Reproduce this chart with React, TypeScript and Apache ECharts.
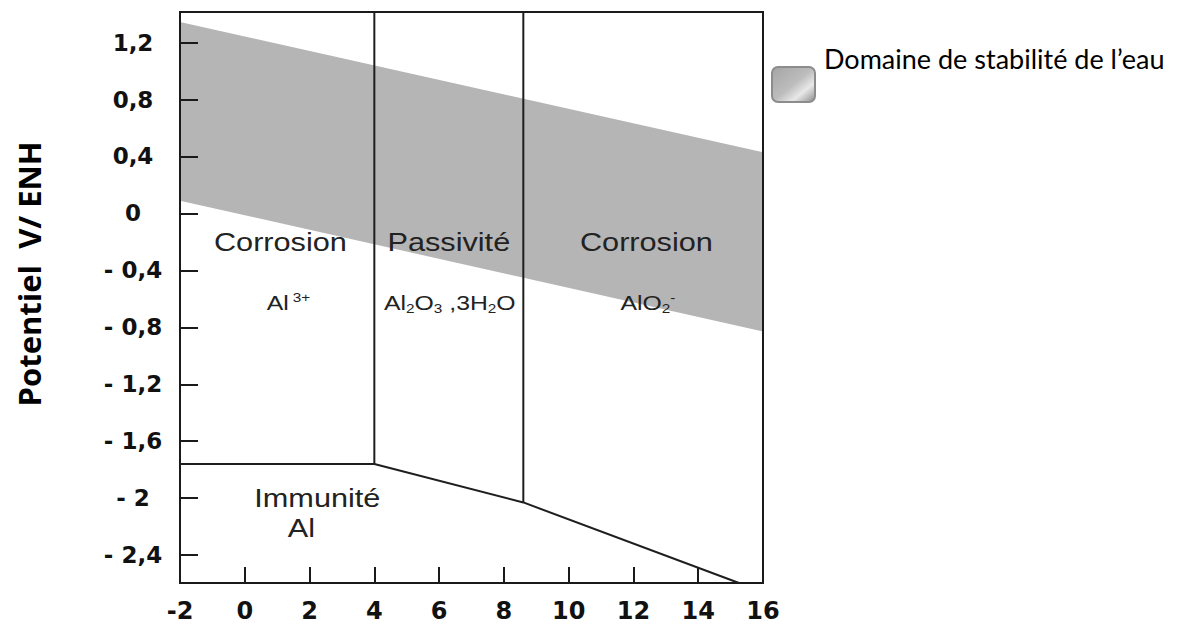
import React, { useEffect, useRef } from "react";
import * as echarts from "echarts";

// ---- data ----
const phRange = [-2, 16];
const potentialRange = [-2.596, 1.415];
const potentialTicks = [-2.4, -2, -1.6, -1.2, -0.8, -0.4, 0, 0.4, 0.8, 1.2];
const waterBand = [
  [-2, 1.345],
  [16, 0.43],
  [16, -0.83],
  [-2, 0.09],
];
const acidPassiveBoundary = [
  [4, -1.76],
  [4, 1.415],
];
const passiveBasicBoundary = [
  [8.6, -2.03],
  [8.6, 1.415],
];
const immunityBoundary = [
  [-2, -1.76],
  [4, -1.76],
  [8.6, -2.03],
  [15.26, -2.596],
];
const regionLabels = [
  { text: "{m|Corrosion}", ph: 1.1, e: -0.2 },
  { text: "{m|Passivité}", ph: 6.3, e: -0.2 },
  { text: "{m|Corrosion}", ph: 12.4, e: -0.2 },
  { text: "{s|Al} {sup|3+}", ph: 1.35, e: -0.63 },
  { text: "{s|Al}{sub|2}{s|O}{sub|3}{s| ,3H}{sub|2}{s|O}", ph: 6.33, e: -0.63 },
  { text: "{s|AlO}{sub|2}{sup|-}", ph: 12.45, e: -0.63 },
  { text: "{m|Immunité}", ph: 2.24, e: -2.0 },
  { text: "{m|Al}", ph: 1.75, e: -2.21 },
];
const legendLabel = "Domaine de stabilité de l’eau";
const axisTitle = "Potentiel  V/ ENH";

const fmtPotential = (v: number) => {
  const r = Math.round(v * 10) / 10;
  if (r === 0) return "0";
  const a = Math.abs(r);
  const s = Number.isInteger(a) ? String(a) : a.toFixed(1).replace(".", ",");
  return r < 0 ? "- " + s : s;
};

const lineColor = "#1e1e1e";

export default function App() {
  const ref = useRef<HTMLDivElement>(null);
  useEffect(() => {
    if (!ref.current) return;
    const chart = echarts.init(ref.current, null, { renderer: "svg" });
    const boundary = (data: number[][]) => ({
      type: "line",
      data,
      symbol: "none",
      lineStyle: { color: lineColor, width: 2 },
      silent: true,
      z: 3,
    });
    chart.setOption({
      animation: false,
      grid: {
        left: 180,
        right: 423,
        top: 12,
        bottom: 43,
        show: true,
        borderColor: "#1a1a1a",
        borderWidth: 2,
        backgroundColor: "transparent",
      },
      xAxis: {
        type: "value",
        min: phRange[0],
        max: phRange[1],
        interval: 2,
        axisLine: { show: false, onZero: false },
        splitLine: { show: false },
        axisTick: {
          inside: true,
          length: 16,
          lineStyle: { color: "#1a1a1a", width: 2 },
        },
        axisLabel: {
          margin: 16,
          fontFamily: "DejaVu Sans",
          fontWeight: "bold",
          fontSize: 24,
          color: "#111",
          showMinLabel: true,
          showMaxLabel: true,
          formatter: (v: number) => String(v),
        },
      },
      yAxis: {
        type: "value",
        min: potentialRange[0],
        max: potentialRange[1],
        axisLine: { show: false, onZero: false },
        splitLine: { show: false },
        axisTick: {
          inside: true,
          length: 18,
          customValues: potentialTicks,
          lineStyle: { color: "#1a1a1a", width: 2 },
        },
        axisLabel: {
          customValues: potentialTicks,
          align: "center",
          margin: 47,
          fontFamily: "DejaVu Sans",
          fontWeight: "bold",
          fontSize: 23,
          color: "#111",
          formatter: fmtPotential,
        },
      },
      series: [
        {
          type: "custom",
          name: legendLabel,
          data: waterBand,
          clip: true,
          silent: true,
          z: -1,
          renderItem: (params: any, api: any) => {
            if (params.dataIndex !== 0) return null;
            const pts = waterBand.map((p) => api.coord(p));
            return {
              type: "polygon",
              shape: { points: pts },
              style: { fill: "#b5b5b5" },
            };
          },
        },
        boundary(acidPassiveBoundary),
        boundary(passiveBasicBoundary),
        boundary(immunityBoundary),
      ],
    });

    const rich = {
      m: { fontFamily: "Liberation Sans", fontSize: 26, fill: "#222", color: "#222", lineHeight: 30 },
      s: { fontFamily: "Liberation Sans", fontSize: 21, fill: "#222", color: "#222", lineHeight: 24 },
      sub: { fontFamily: "Liberation Sans", fontSize: 13, fill: "#222", color: "#222", lineHeight: 12, verticalAlign: "bottom" },
      sup: { fontFamily: "Liberation Sans", fontSize: 13, fill: "#222", color: "#222", lineHeight: 12, verticalAlign: "top" },
    };

    const labelGraphics = regionLabels.map((l) => {
      const [px, py] = chart.convertToPixel({ xAxisIndex: 0, yAxisIndex: 0 }, [l.ph, l.e]) as number[];
      return {
        type: "text",
        x: px,
        y: py,
        scaleX: 1.18,
        z: 10,
        silent: true,
        style: {
          text: l.text,
          rich,
          align: "center",
          verticalAlign: "middle",
          fill: "#222",
        },
      };
    });

    chart.setOption({
      graphic: [
        ...labelGraphics,
        {
          type: "text",
          x: 29,
          y: 274,
          rotation: Math.PI / 2,
          silent: true,
          style: {
            text: axisTitle,
            fontFamily: "Open Sans",
            fontWeight: "bold",
            fontSize: 31,
            fill: "#000",
            align: "center",
            verticalAlign: "middle",
          },
        },
        {
          type: "rect",
          silent: true,
          shape: { x: 772, y: 67, width: 43, height: 35, r: 6 },
          style: {
            fill: new echarts.graphic.LinearGradient(0, 0, 1, 1, [
              { offset: 0, color: "#a4a4a4" },
              { offset: 0.5, color: "#bdbdbd" },
              { offset: 0.72, color: "#e8e8e8" },
              { offset: 1, color: "#8a8a8a" },
            ]),
            stroke: "#8c8c8c",
            lineWidth: 2,
          },
        },
        {
          type: "text",
          x: 824,
          y: 58,
          silent: true,
          style: {
            text: legendLabel,
            fontFamily: "Lato",
            fontSize: 27,
            fill: "#000",
            align: "left",
            verticalAlign: "middle",
          },
        },
      ],
    });

    return () => chart.dispose();
  }, []);
  return (
    <div
      ref={ref}
      style={{ position: "absolute", left: 0, top: 0, width: 1186, height: 626, background: "#fff" }}
    />
  );
}
